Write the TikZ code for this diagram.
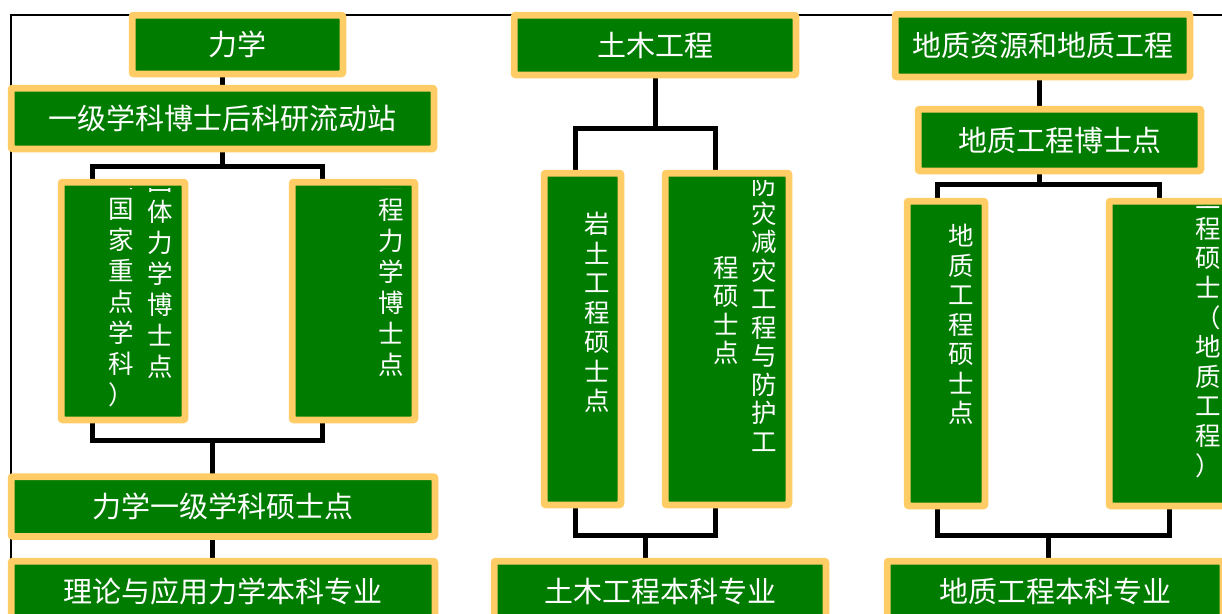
\documentclass[tikz,border=0pt]{standalone}
\usepackage{fontspec}
\newfontfamily\cjk{Noto Sans CJK SC}
\definecolor{boxg}{RGB}{0,124,0}
\definecolor{borderc}{RGB}{255,204,102}
\newcommand\vfont[1]{\cjk\fontsize{25.5}{#1}\selectfont}
\tikzset{
  gbox/.style={draw=borderc, fill=boxg, line width=4.5pt, rounded corners=2.5pt,
    inner sep=0pt, text=white, font=\cjk\fontsize{29}{29}\selectfont},
  conn/.style={draw=black, line width=5pt, line join=miter},
  vtext/.style={text=white, align=center, inner sep=0pt, anchor=north}
}
\begin{document}
\begin{tikzpicture}[x=1pt,y=-1pt]
\useasboundingbox (0,0) rectangle (1222,613);
\clip (0,0) rectangle (1222,613);
% frame
\draw[line width=1.3pt] (1222,15) -- (11,15) -- (11,613);

% ---------- nodes ----------
\node[gbox, minimum width=208.5pt, minimum height=56.5pt] (lixue) at (237.5,44.5) {力学};
\node[gbox, minimum width=420.5pt, minimum height=58.5pt] (yiji) at (222.5,118.5) {一级学科博士后科研流动站};
\node[gbox, minimum width=121.5pt, minimum height=235.5pt] (boxA) at (123,301) {};
\node[gbox, minimum width=120.5pt, minimum height=235.5pt] (boxB) at (353.5,301) {};
\node[gbox, minimum width=421.5pt, minimum height=57.5pt] (shuoshi) at (223,506.5) {力学一级学科硕士点};
\node[gbox, minimum width=421.5pt, minimum height=57.5pt] (benke1) at (223,591) {理论与应用力学本科专业};

\node[gbox, minimum width=279.5pt, minimum height=57.5pt] (tumu) at (655,45) {土木工程};
\node[gbox, minimum width=74.5pt, minimum height=329.5pt] (yantu) at (582.5,339) {};
\node[gbox, minimum width=121.5pt, minimum height=329.5pt] (fangzai) at (727,339) {};
\node[gbox, minimum width=329.5pt, minimum height=57.5pt] (benke2) at (660,591) {土木工程本科专业};

\node[gbox, minimum width=292.5pt, minimum height=60.5pt] (dizhi) at (1042.5,45.5) {地质资源和地质工程};
\node[gbox, minimum width=280.5pt, minimum height=59.5pt] (dzbo) at (1059.5,140) {地质工程博士点};
\node[gbox, minimum width=75.5pt, minimum height=302.5pt] (dzshuo) at (946,353.5) {};
\node[gbox, minimum width=137.5pt, minimum height=302.5pt] (dzright) at (1179,353.5) {};
\node[gbox, minimum width=333.5pt, minimum height=57.5pt] (benke3) at (1055,591) {地质工程本科专业};

% ---------- connectors ----------
\draw[conn] (yiji.north) -- (yiji.north |- lixue.south);
\draw[conn] (yiji.south) -- ++(0,16) coordinate (j1);
\draw[conn] ([xshift=-31pt]boxA.north) |- (j1) -| ([xshift=-31pt]boxB.north);
\draw[conn] ([xshift=-31pt]boxA.south) -- ++(0,19) coordinate (j2) -| ([xshift=-31pt]boxB.south);
\draw[conn] ([xshift=-11pt]shuoshi.north) -- ([xshift=-11pt]shuoshi.north |- j2);
\draw[conn] ([xshift=-11pt]shuoshi.south) -- ([xshift=-11pt]benke1.north);

\draw[conn] (tumu.south) -- ++(0,52) coordinate (j3);
\draw[conn] ([xshift=-7.5pt]yantu.north) |- (j3) -| ([xshift=-12pt]fangzai.north);
\draw[conn] ([xshift=-7.5pt]yantu.south) -- ++(0,29) coordinate (j4) -| ([xshift=-12pt]fangzai.south);
\draw[conn] ([xshift=-15pt]benke2.north) -- ([xshift=-15pt]benke2.north |- j4);

\draw[conn] ([xshift=-20.5pt]dzbo.north) -- ([xshift=-20.5pt]dzbo.north |- dizhi.south);
\draw[conn] ([xshift=-20.5pt]dzbo.south) -- ++(0,12) coordinate (j5);
\draw[conn] ([xshift=-8.5pt]dzshuo.north) |- (j5) -| ([xshift=-20pt]dzright.north);
\draw[conn] ([xshift=-8.5pt]dzshuo.south) -- ++(0,28) coordinate (j6) -| ([xshift=-10pt]dzright.south);
\draw[conn] ([xshift=-6.5pt]benke3.north) -- ([xshift=-6.5pt]benke3.north |- j6);

% redraw box borders over connector ends
\foreach \n in {lixue,yiji,boxA,boxB,shuoshi,benke1,tumu,yantu,fangzai,benke2,dizhi,dzbo,dzshuo,dzright,benke3}{
  \draw[draw=borderc, line width=4.5pt, rounded corners=2.5pt] (\n.north west) rectangle (\n.south east);
}

% ---------- vertical texts ----------
\begin{scope}
\clip ([yshift=-7pt]boxA.north west) rectangle (boxA.south east);
\node[vtext, font=\vfont{31}] (tA1) at (160,170) {固\\体\\力\\学\\博\\士\\点};
\node[vtext, font=\vfont{31}] (tA2) at (121,165) {（\\国\\家\\重\\点\\学\\科\\）};
\end{scope}
\begin{scope}
\clip ([yshift=-7pt]boxB.north west) rectangle (boxB.south east);
\node[vtext, font=\vfont{31}] (tB1) at (391,170) {工\\程\\力\\学\\博\\士\\点};
\end{scope}
\node[vtext, font=\vfont{29.5}] (tY) at (597,212) {岩\\土\\工\\程\\硕\\士\\点};
\begin{scope}
\clip ([yshift=-8pt]fangzai.north west) rectangle (fangzai.south east);
\node[vtext, font=\vfont{28.5}] (tF1) at (764,173) {防\\灾\\减\\灾\\工\\程\\与\\防\\护\\工};
\node[vtext, font=\vfont{28.5}] (tF2) at (726,256) {程\\硕\\士\\点};
\end{scope}
\node[vtext, font=\vfont{29.5}] (tD) at (961,224) {地\\质\\工\\程\\硕\\士\\点};
\begin{scope}
\clip ([yshift=-6pt]dzright.north west) rectangle (dzright.south east);
\node[vtext, font=\vfont{29.6}] (tR) at (1208,190) {工\\程\\硕\\士\\（\\地\\质\\工\\程\\）};
\end{scope}
\end{tikzpicture}
\end{document}
